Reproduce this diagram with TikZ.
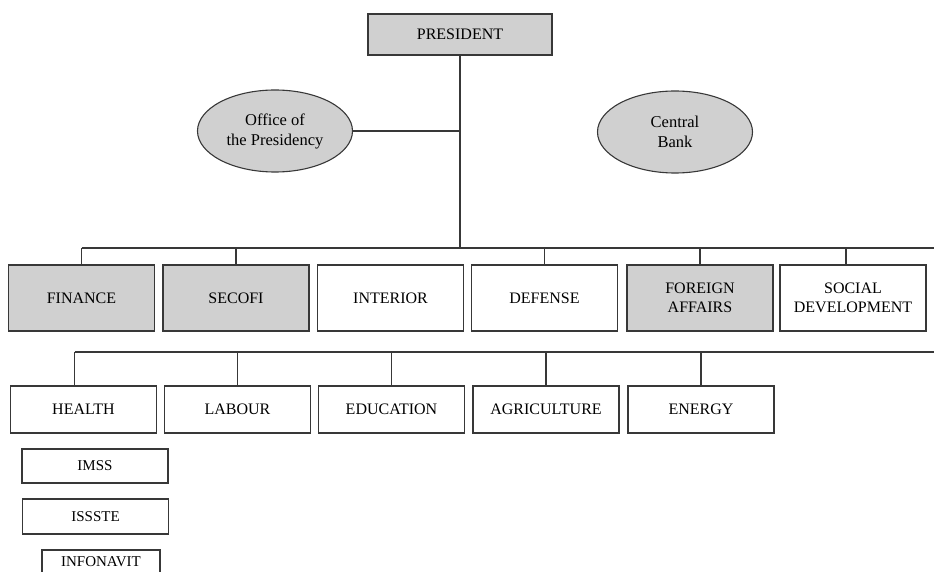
\documentclass[tikz,border=0pt]{standalone}
\usepackage{fontspec}
\setmainfont{Liberation Serif}
\usetikzlibrary{positioning,shapes.geometric}
\definecolor{unitgray}{HTML}{D0D0D0}
\definecolor{inkline}{HTML}{383838}

\begin{document}
\begin{tikzpicture}[x=1pt,y=-1pt,
  unit/.style={draw=inkline, line width=1.1pt, fill=white, align=center, inner sep=0pt,
    minimum width=146pt, font=\fontsize{16}{19}\selectfont},
  shaded/.style={fill=unitgray},
  secretariat/.style={unit, minimum height=66pt},
  minor/.style={unit, minimum height=47pt},
  agency/.style={unit, font=\fontsize{15}{17}\selectfont},
  oval/.style={unit, ellipse, shaded, minimum width=155pt, minimum height=82pt,
    font=\fontsize{16.5}{20}\selectfont},
  link/.style={draw=inkline, line width=1.1pt}]
\useasboundingbox (0,0) rectangle (934,572);
\clip (0,0) rectangle (934,572);
\node[unit, shaded, minimum width=184pt, minimum height=41pt] (president) at (460,34.5) {PRESIDENT};
\node[oval] (office) at (275,131) {Office of\\the Presidency};
\node[oval] (bank) at (675,132) {Central\\Bank};
\node[secretariat, shaded] (finance) at (81.5,298) {FINANCE};
\node[secretariat, shaded] (secofi) at (236,298) {SECOFI};
\node[secretariat] (interior) at (390.5,298) {INTERIOR};
\node[secretariat] (defense) at (544.5,298) {DEFENSE};
\node[secretariat, shaded] (foreign) at (700,298) {FOREIGN\\AFFAIRS};
\node[secretariat] (social) at (853,298) {SOCIAL\\DEVELOPMENT};
\node[minor] (health) at (83.5,409.5) {HEALTH};
\node[minor] (labour) at (237.5,409.5) {LABOUR};
\node[minor] (education) at (391.5,409.5) {EDUCATION};
\node[minor] (agriculture) at (546,409.5) {AGRICULTURE};
\node[minor] (energy) at (701,409.5) {ENERGY};
\node[agency, minimum height=34pt] (imss) at (95,466) {IMSS};
\node[agency, minimum height=35pt] (issste) at (95.5,516.5) {ISSSTE};
\node[agency, minimum width=118pt, minimum height=24pt] (infonavit) at (101,562) {INFONAVIT};
\coordinate (busone) at (934,248);
\coordinate (bustwo) at (934,352);
\draw[link] (president.south) -- (president.south |- busone);
\draw[link] (office.east) -- (office.east -| president.south);
\draw[link] (finance.north |- busone) -- (busone);
\foreach \dept in {finance,secofi,defense,foreign}
  \draw[link] (\dept.north) -- (\dept.north |- busone);
\draw[link] ([xshift=-7pt]social.north) -- ([xshift=-7pt]social.north |- busone);
\draw[link] ([xshift=-9pt]health.north |- bustwo) -- (bustwo);
\draw[link] ([xshift=-9pt]health.north) -- ([xshift=-9pt]health.north |- bustwo);
\foreach \dept in {labour,education,agriculture,energy}
  \draw[link] (\dept.north) -- (\dept.north |- bustwo);
\end{tikzpicture}
\end{document}
